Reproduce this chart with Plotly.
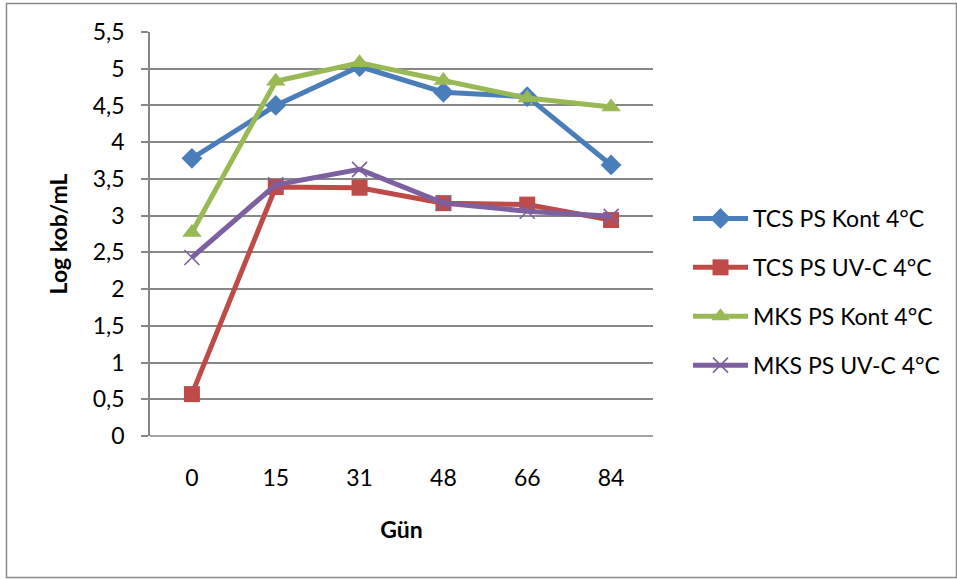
import plotly.graph_objects as go

# Storage days (categorical x axis)
days = ["0", "15", "31", "48", "66", "84"]

# Log kob/mL counts per series
tcs_kont = [3.78, 4.50, 5.03, 4.68, 4.62, 3.69]
tcs_uvc = [0.57, 3.39, 3.38, 3.17, 3.15, 2.94]
mks_kont = [2.77, 4.83, 5.08, 4.84, 4.60, 4.48]
mks_uvc = [2.43, 3.42, 3.63, 3.17, 3.06, 2.99]

series_names = ["TCS PS Kont 4°C", "TCS PS UV-C 4°C", "MKS PS Kont 4°C", "MKS PS UV-C 4°C"]
y_ticks = [0, 0.5, 1, 1.5, 2, 2.5, 3, 3.5, 4, 4.5, 5, 5.5]
y_tick_text = ["0", "0,5", "1", "1,5", "2", "2,5", "3", "3,5", "4", "4,5", "5", "5,5"]

FONT = "Lato, 'Open Sans', sans-serif"
FS = 23
GRID = "#878787"

styles = [
    dict(color="#4A7EBB", symbol="diamond", size=16, line=dict(width=0)),
    dict(color="#BE4B48", symbol="square", size=16, line=dict(width=0)),
    dict(color="#98B954", symbol="triangle-up", size=17, line=dict(width=0)),
    dict(color="#7D60A0", symbol="x-thin-open", size=15, line=dict(width=1.6, color="#7D60A0")),
]

fig = go.Figure()
for name, vals, st in zip(series_names, [tcs_kont, tcs_uvc, mks_kont, mks_uvc], styles):
    fig.add_trace(go.Scatter(
        x=days, y=vals, name=name, mode="lines+markers",
        line=dict(color=st["color"], width=5),
        marker=dict(symbol=st["symbol"], size=st["size"], color=st["color"], line=st["line"]),
        legendgroup=name,
    ))

W, H = 957, 579
L, R, T, B = 150, 653, 32, 436
pw, ph = R - L, B - T

def px_x(p):
    return (p - L) / pw

def px_y(p):
    return (B - p) / ph

fig.update_layout(
    width=W, height=H,
    margin=dict(l=L, r=W - R, t=T, b=H - B, pad=0),
    paper_bgcolor="white", plot_bgcolor="white",
    font=dict(family=FONT, size=FS, color="#000000"),
    showlegend=True,
    legend=dict(
        x=px_x(688), y=px_y(197), xanchor="left", yanchor="top",
        font=dict(family=FONT, size=FS, color="#000000"),
        traceorder="grouped", tracegroupgap=16,
        bgcolor="rgba(0,0,0,0)", itemwidth=55,
    ),
    xaxis=dict(
        type="category", showgrid=False, zeroline=False,
        showline=False, ticks="",
        tickfont=dict(family=FONT, size=FS),
        ticklabelstandoff=26,
        title=dict(text="<b>Gün</b>", font=dict(family=FONT, size=FS), standoff=31),
        range=[-0.5, 5.5], fixedrange=True,
    ),
    yaxis=dict(
        range=[0, 5.5], tickvals=y_ticks, ticktext=y_tick_text,
        showgrid=True, gridcolor=GRID, gridwidth=1.5,
        zeroline=False, showline=True, linecolor=GRID, linewidth=1.5,
        ticks="outside", ticklen=7, tickcolor=GRID, tickwidth=1.5,
        tickfont=dict(family=FONT, size=FS),
        ticklabelstandoff=12,
        title=dict(text="<b>Log kob/mL</b>", font=dict(family=FONT, size=FS), standoff=19),
        fixedrange=True,
    ),
    shapes=[
        dict(type="rect", xref="paper", yref="paper",
             x0=px_x(6.5), x1=px_x(956.5), y0=px_y(577.5), y1=px_y(3.5),
             line=dict(color="#8A8A8A", width=1.5), layer="below"),
        dict(type="line", xref="paper", yref="paper",
             x0=0, x1=1, y0=0, y1=0,
             line=dict(color=GRID, width=1.5), layer="below"),
    ],
)

fig.write_html("out.html")
